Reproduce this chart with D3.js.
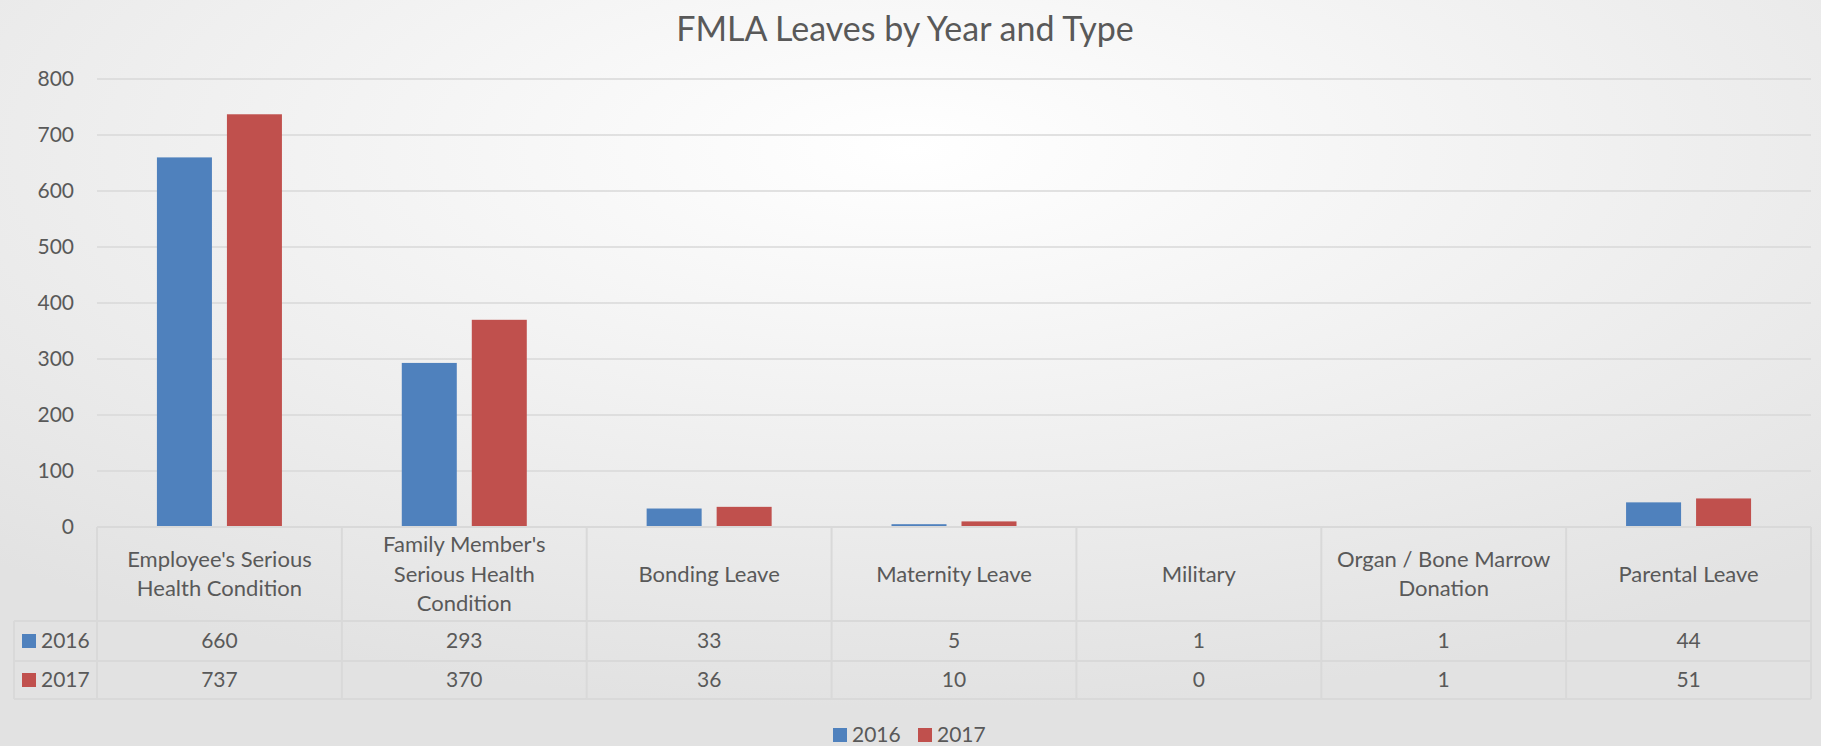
<!DOCTYPE html>
<html lang="en">
<head>
  <meta charset="UTF-8">
  <title>FMLA Leaves by Year and Type</title>
  <style>
body {
  margin: 0;
  overflow: hidden;
  font-family: 'Lato', 'Open Sans', sans-serif;
}
svg text {
  fill: #595959;
}
  </style>
</head>
<body>
<svg id="chart" width="1821" height="746"></svg>

<script src="https://d3js.org/d3.v7.min.js"></script>
<script>
/* global d3 */

var categories = [
  "Employee's Serious\nHealth Condition",
  "Family Member's\nSerious Health\nCondition",
  "Bonding Leave",
  "Maternity Leave",
  "Military",
  "Organ / Bone Marrow\nDonation",
  "Parental Leave"
];
var years = ["2016", "2017"];
var values2016 = [660, 293, 33, 5, 1, 1, 44];
var values2017 = [737, 370, 36, 10, 0, 1, 51];
var yTicks = [0, 100, 200, 300, 400, 500, 600, 700, 800];
var colors = ["#4F81BD", "#C0504D"];

var series = [values2016, values2017];

var width = 1821, height = 746;
var svg = d3.select("#chart");

// background, light in the middle and grey to the edges
var defs = svg.append("defs");
var grad = defs.append("radialGradient")
  .attr("id", "bg")
  .attr("cx", "50%").attr("cy", "20%").attr("r", "75%")
  .attr("gradientUnits", "objectBoundingBox");
grad.append("stop").attr("offset", "0%").attr("stop-color", "#ffffff");
grad.append("stop").attr("offset", "100%").attr("stop-color", "#e2e2e2");
svg.append("rect").attr("width", width).attr("height", height).attr("fill", "url(#bg)");

var x0 = d3.scaleBand().domain(categories).range([97, 1811]);
var x1 = d3.scaleBand().domain(years).range([0, x0.bandwidth()])
  .paddingInner(0.2143).paddingOuter(0.856);
var y = d3.scaleLinear().domain([0, 800]).range([527, 79]);

// title
svg.append("text")
  .attr("x", 905).attr("y", 41)
  .attr("text-anchor", "middle")
  .style("font-size", "34px")
  .style("font-weight", 400)
  .text("FMLA Leaves by Year and Type");

// gridlines + y labels
var grid = svg.append("g");
grid.selectAll("line")
  .data(yTicks.filter(function (d) { return d > 0; }))
  .enter().append("line")
  .attr("x1", 97).attr("x2", 1811)
  .attr("y1", function (d) { return y(d); })
  .attr("y2", function (d) { return y(d); })
  .attr("stroke", "#d9d9d9")
  .attr("stroke-width", 1.5);

grid.selectAll("text")
  .data(yTicks)
  .enter().append("text")
  .attr("x", 74)
  .attr("y", function (d) { return y(d); })
  .attr("dy", "0.35em")
  .attr("text-anchor", "end")
  .style("font-size", "21px")
  .text(function (d) { return d; });

// bars
var groups = svg.append("g").selectAll("g")
  .data(categories)
  .enter().append("g")
  .attr("transform", function (d) { return "translate(" + x0(d) + ",0)"; });

groups.selectAll("rect")
  .data(function (d, i) {
    return years.map(function (yr, j) { return {year: yr, value: series[j][i], c: colors[j]}; });
  })
  .enter().append("rect")
  .attr("x", function (d) { return x1(d.year); })
  .attr("width", x1.bandwidth())
  .attr("y", function (d) { return y(d.value); })
  .attr("height", function (d) { return y(0) - y(d.value); })
  .attr("fill", function (d) { return d.c; });

// data table below the axis
var tableTop = 527, headBottom = 621, row1Bottom = 661, row2Bottom = 699;
var tLeft = 14, tRight = 1811;
var table = svg.append("g").attr("stroke", "#d9d9d9").attr("stroke-width", 2);

table.append("line").attr("x1", 97).attr("x2", tRight).attr("y1", tableTop).attr("y2", tableTop);
[headBottom, row1Bottom, row2Bottom].forEach(function (yy) {
  table.append("line").attr("x1", tLeft).attr("x2", tRight).attr("y1", yy).attr("y2", yy);
});
table.append("line").attr("x1", tLeft).attr("x2", tLeft).attr("y1", headBottom).attr("y2", row2Bottom);
categories.forEach(function (c) {
  table.append("line").attr("x1", x0(c)).attr("x2", x0(c)).attr("y1", tableTop).attr("y2", row2Bottom);
});
table.append("line").attr("x1", tRight).attr("x2", tRight).attr("y1", tableTop).attr("y2", row2Bottom);

// header labels
var lineH = 29.5;
var headMid = (tableTop + headBottom) / 2;
categories.forEach(function (c) {
  var lines = c.split("\n");
  var t = svg.append("text")
    .attr("text-anchor", "middle")
    .style("font-size", "22px");
  lines.forEach(function (ln, k) {
    t.append("tspan")
      .attr("x", x0(c) + x0.bandwidth() / 2)
      .attr("y", headMid + (k - (lines.length - 1) / 2) * lineH)
      .attr("dy", "0.35em")
      .text(ln);
  });
});

// value rows
var rowMids = [(headBottom + row1Bottom) / 2, (row1Bottom + row2Bottom) / 2];
years.forEach(function (yr, j) {
  svg.append("rect")
    .attr("x", 22).attr("y", rowMids[j] - 7)
    .attr("width", 14).attr("height", 14)
    .attr("fill", colors[j]);
  svg.append("text")
    .attr("x", 41).attr("y", rowMids[j]).attr("dy", "0.35em")
    .style("font-size", "21px")
    .text(yr);
  svg.append("g").selectAll("text")
    .data(series[j])
    .enter().append("text")
    .attr("x", function (d, i) { return x0(categories[i]) + x0.bandwidth() / 2; })
    .attr("y", rowMids[j]).attr("dy", "0.35em")
    .attr("text-anchor", "middle")
    .style("font-size", "21px")
    .text(function (d) { return d; });
});

// legend
var legendX = [833, 918];
years.forEach(function (yr, j) {
  svg.append("rect")
    .attr("x", legendX[j]).attr("y", 728)
    .attr("width", 14).attr("height", 14)
    .attr("fill", colors[j]);
  svg.append("text")
    .attr("x", legendX[j] + 19).attr("y", 735).attr("dy", "0.35em")
    .style("font-size", "21px")
    .text(yr);
});
</script>
</body>
</html>
